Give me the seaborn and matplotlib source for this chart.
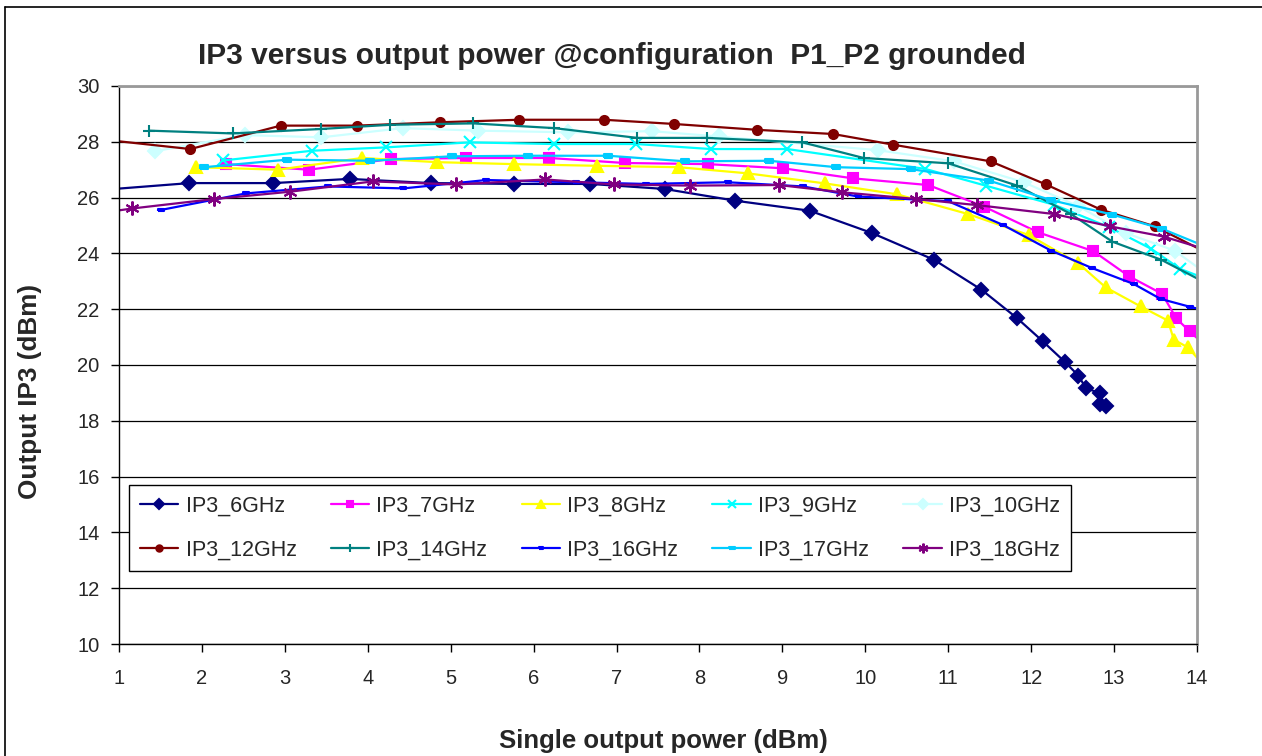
import matplotlib
matplotlib.use("Agg")
import matplotlib.pyplot as plt
from matplotlib.lines import Line2D
import seaborn as sns

# values (x = single output power, y = output IP3)
x_6 = [0.9, 1.85, 2.86, 3.78, 4.76, 5.76, 6.68, 7.58, 8.43, 9.33, 10.08, 10.83, 11.40, 11.83, 12.14, 12.41, 12.57, 12.66, 12.83, 12.83, 12.90]
y_6 = [26.30, 26.52, 26.52, 26.67, 26.52, 26.49, 26.49, 26.31, 25.89, 25.53, 24.73, 23.77, 22.70, 21.68, 20.85, 20.10, 19.62, 19.17, 18.99, 18.60, 18.52]

x_7 = [2.29, 3.29, 4.28, 5.19, 6.19, 7.10, 8.10, 9.01, 9.85, 10.76, 11.43, 12.08, 12.75, 13.18, 13.58, 13.75, 13.91, 14.08]
y_7 = [27.20, 27.00, 27.38, 27.42, 27.42, 27.24, 27.20, 27.05, 26.69, 26.45, 25.68, 24.76, 24.08, 23.18, 22.55, 21.67, 21.21, 20.75]

x_8 = [1.93, 2.92, 3.93, 4.84, 5.76, 6.76, 7.75, 8.58, 9.51, 10.38, 11.24, 11.97, 12.57, 12.90, 13.32, 13.65, 13.72, 13.89, 14.08]
y_8 = [27.09, 27.00, 27.42, 27.27, 27.20, 27.14, 27.09, 26.87, 26.51, 26.12, 25.41, 24.66, 23.64, 22.78, 22.10, 21.59, 20.91, 20.63, 20.00]

x_9 = [2.25, 3.33, 4.22, 5.23, 6.24, 7.24, 8.14, 9.06, 10.72, 11.45, 12.28, 12.94, 13.45, 13.80, 14.10]
y_9 = [27.33, 27.68, 27.80, 27.98, 27.92, 27.92, 27.74, 27.74, 27.03, 26.43, 25.74, 24.94, 24.16, 23.44, 23.10]

x_10 = [1.43, 2.52, 3.44, 4.42, 5.33, 6.42, 7.43, 8.23, 10.15, 11.07, 11.91, 12.57, 13.14, 13.73, 14.10]
y_10 = [27.66, 28.24, 28.16, 28.49, 28.40, 28.34, 28.38, 28.19, 27.70, 27.30, 26.55, 25.69, 24.73, 24.10, 23.30]

x_12 = [0.9, 1.86, 2.95, 3.87, 4.87, 5.82, 6.85, 7.69, 8.69, 9.61, 10.33, 11.51, 12.18, 12.84, 13.49, 14.10]
y_12 = [28.05, 27.74, 28.58, 28.58, 28.70, 28.79, 28.79, 28.64, 28.43, 28.28, 27.90, 27.30, 26.47, 25.57, 24.97, 24.05]

x_14 = [1.36, 2.37, 3.44, 4.27, 5.27, 6.25, 7.25, 8.09, 9.24, 9.98, 11.00, 11.83, 12.48, 12.98, 13.57, 14.10]
y_14 = [28.40, 28.30, 28.46, 28.61, 28.66, 28.49, 28.14, 28.14, 27.98, 27.42, 27.23, 26.43, 25.41, 24.42, 23.77, 22.95]

x_16 = [1.51, 2.53, 3.52, 4.43, 5.43, 6.51, 7.35, 8.34, 9.25, 9.91, 11.00, 11.66, 12.24, 12.73, 13.24, 13.56, 13.91, 14.10]
y_16 = [25.56, 26.15, 26.40, 26.33, 26.63, 26.55, 26.49, 26.55, 26.40, 26.04, 25.87, 25.02, 24.10, 23.48, 22.90, 22.37, 22.09, 21.95]

x_17 = [2.03, 3.03, 4.03, 5.01, 5.93, 6.90, 7.83, 8.84, 9.65, 10.55, 11.49, 12.24, 12.98, 13.58, 14.10]
y_17 = [27.09, 27.36, 27.32, 27.48, 27.50, 27.50, 27.30, 27.32, 27.09, 27.02, 26.61, 25.91, 25.39, 24.88, 24.25]

x_18 = [0.9, 1.16, 2.15, 3.06, 4.06, 5.07, 6.14, 6.97, 7.88, 8.96, 9.72, 10.61, 11.35, 12.28, 12.95, 13.60, 14.10]
y_18 = [25.50, 25.61, 25.95, 26.21, 26.58, 26.47, 26.65, 26.47, 26.43, 26.45, 26.19, 25.95, 25.73, 25.41, 24.97, 24.60, 24.15]

labels = ["IP3_6GHz", "IP3_7GHz", "IP3_8GHz", "IP3_9GHz", "IP3_10GHz",
          "IP3_12GHz", "IP3_14GHz", "IP3_16GHz", "IP3_17GHz", "IP3_18GHz"]
xs = [x_6, x_7, x_8, x_9, x_10, x_12, x_14, x_16, x_17, x_18]
ys = [y_6, y_7, y_8, y_9, y_10, y_12, y_14, y_16, y_17, y_18]

colors = ["#000080", "#FF00FF", "#FFFF00", "#00FFFF", "#CCFFFF",
          "#800000", "#008080", "#0000FF", "#00CCFF", "#800080"]
dash = [(-1, -0.38), (1, -0.38), (1, 0.38), (-1, 0.38), (-1, -0.38)]
markers = ["D", "s", "^", "x", "D", "o", "+", dash, dash, (6, 2, 0)]
sizes = [7, 6.5, 8, 8, 7, 6.5, 9, 5, 6, 10]

sns.set_style("white")
plt.rcParams["font.family"] = ["Liberation Sans", "DejaVu Sans"]

fig = plt.figure(figsize=(12.62, 7.56), dpi=100)
ax = fig.add_axes([119 / 1262, 1 - 644 / 756, (1197 - 119) / 1262, (644 - 86) / 756])

for x, y, lab, c, m, s in zip(xs, ys, labels, colors, markers, sizes):
    sns.lineplot(x=x, y=y, ax=ax, color=c, marker=m, markersize=s,
                 markeredgecolor=c, markerfacecolor=c, markeredgewidth=1.5,
                 linewidth=1.6, sort=False, estimator=None, label=lab)

ax.set_xlim(1, 14)
ax.set_ylim(10, 30)
ax.set_xticks(range(1, 15))
ax.set_yticks(range(10, 31, 2))
ax.yaxis.grid(True, color="black", linewidth=0.9)
ax.xaxis.grid(False)
ax.set_axisbelow(True)
ax.tick_params(axis="both", labelsize=14.5, length=6, width=1, color="black",
               direction="out", bottom=True, left=True)
ax.tick_params(axis="x", pad=12)
ax.tick_params(axis="y", pad=8)
for side in ["left", "bottom"]:
    ax.spines[side].set_color("black")
    ax.spines[side].set_linewidth(1)
for side in ["top", "right"]:
    ax.spines[side].set_color("#999999")
    ax.spines[side].set_linewidth(2)

ax.set_xlabel("Single output power (dBm)", fontsize=18.5, fontweight="bold")
ax.set_ylabel("Output IP3 (dBm)", fontsize=18.8, fontweight="bold")
ax.xaxis.set_label_coords(0.505, -0.152)
ax.yaxis.set_label_coords(-0.0714, 0.453)
fig.text(0.485, 1 - 56 / 756, "IP3 versus output power @configuration  P1_P2 grounded",
         ha="center", va="center", fontsize=21.5, fontweight="bold")

handles, labs = ax.get_legend_handles_labels()
order = [0, 5, 1, 6, 2, 7, 3, 8, 4, 9]
leg = ax.legend([handles[i] for i in order], [labs[i] for i in order], ncol=5,
                loc="upper left", bbox_to_anchor=(0.0092, 0.285, 0.874, 0.0),
                mode="expand", frameon=True, fancybox=False, framealpha=1,
                edgecolor="black", fontsize=15.5, markerscale=0.7,
                handlelength=1.8, handletextpad=0.33, labelspacing=1.05,
                borderpad=0.5, borderaxespad=0)
leg.get_frame().set_linewidth(1)

# outer chart frame (left and top edges visible in reference)
fig.add_artist(Line2D([5 / 1262, 5 / 1262], [0, 1 - 7 / 756], color="black", linewidth=1.2))
fig.add_artist(Line2D([5 / 1262, 1], [1 - 7 / 756, 1 - 7 / 756], color="black", linewidth=1.2))

fig.savefig("out.png", dpi=100)
